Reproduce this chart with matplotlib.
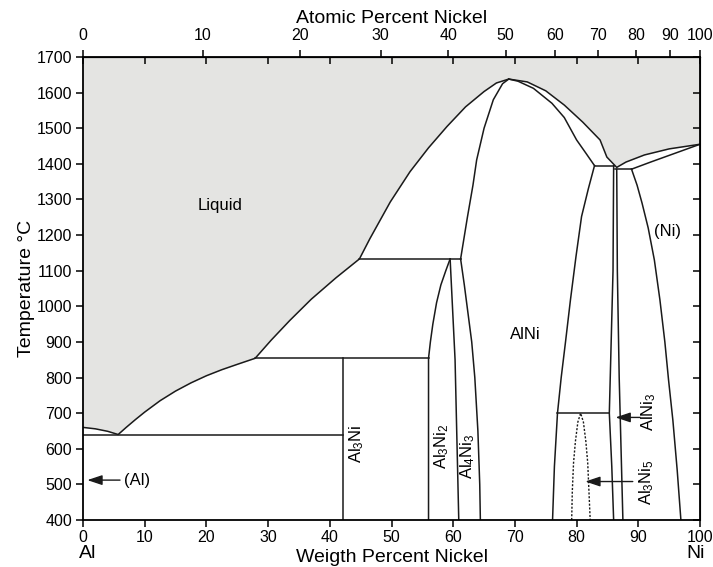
import numpy as np
import matplotlib
matplotlib.use("Agg")
import matplotlib.pyplot as plt

plt.rcParams['font.family'] = ['Liberation Sans', 'DejaVu Sans']
plt.rcParams['mathtext.default'] = 'regular'

# ---- phase boundaries, (wt% Ni, temperature C) ----
liq_x = [0, 2, 4, 5.7, 7, 8.5, 10, 12.5, 15, 17.5, 20, 22.5, 25, 27.9,
         30.5, 33.5, 37, 41, 44.8, 46.5, 49.8, 53, 56, 59, 62, 65, 67, 69,
         72, 75, 78, 81, 83.8, 84.9, 86.5, 88, 91, 95, 100]
liq_t = [660, 656, 649, 640, 660, 682, 703, 735, 762, 785, 805, 822, 837, 854,
         905, 960, 1020, 1080, 1133, 1190, 1293, 1378, 1445, 1505, 1560, 1603, 1627, 1638,
         1630, 1605, 1565, 1517, 1467, 1419, 1390, 1405, 1425, 1442, 1455]

# (Ni) solidus from eutectic to pure Ni
ni_sol_x = [88.9, 92, 96, 100]
ni_sol_t = [1385, 1405, 1430, 1455]

# AlNi solidus, left and right of the congruent maximum
alni_left_x = [61.2, 62.3, 63.2, 63.8, 65, 66.5, 68, 69]
alni_left_t = [1133, 1250, 1340, 1411, 1500, 1580, 1625, 1638]
alni_right_x = [69, 70.5, 73, 76, 78, 80, 81.5, 82.9]
alni_right_t = [1638, 1632, 1612, 1570, 1530, 1467, 1430, 1395]

# AlNi solvus lines below the solidus
alni_lo_x = [61.2, 61.8, 62.4, 63.0, 63.5, 64.0, 64.3, 64.4]
alni_lo_t = [1133, 1060, 980, 900, 800, 650, 500, 400]
alni_hi_x = [82.9, 81.9, 80.8, 79.9, 79.0, 78.2, 77.5, 76.9, 76.4, 76.1]
alni_hi_t = [1395, 1330, 1252, 1140, 1018, 900, 800, 700, 550, 400]

# Al3Ni2 dome
al3ni2_l_x = [59.5, 58.8, 58.0, 57.3, 56.7, 56.3, 56.0, 56.0]
al3ni2_l_t = [1133, 1100, 1060, 1010, 950, 900, 854, 400]
al3ni2_r_x = [59.5, 60.3, 60.9]
al3ni2_r_t = [1133, 850, 400]

# AlNi3 field
alni3_l_x = [86.0, 85.9, 85.6, 85.3, 85.7, 86.0]
alni3_l_t = [1395, 1100, 900, 700, 550, 400]
alni3_r_x = [86.5, 86.6, 86.9, 87.5]
alni3_r_t = [1385, 1100, 800, 400]

# (Ni) solvus
ni_solv_x = [88.9, 89.8, 90.6, 91.6, 92.6, 93.5, 94.3, 94.9, 95.6, 96.3, 96.9]
ni_solv_t = [1385, 1340, 1290, 1220, 1130, 1018, 900, 793, 680, 540, 400]

# Al3Ni5 dome (dashed)
al3ni5_x = [79.2, 79.3, 79.5, 79.8, 80.2, 80.65, 81.1, 81.5, 81.8, 82.0, 82.2]
al3ni5_t = [400, 480, 560, 620, 675, 700, 675, 620, 560, 480, 400]

# Al3Ni line compound
al3ni_x = [42.2, 42.2]
al3ni_t = [400, 854]

# invariant horizontals: (x_start, x_end, T)
invariants = [(0, 42.2, 640), (27.9, 56.0, 854), (44.8, 61.2, 1133),
              (76.9, 85.3, 700), (82.9, 86.0, 1395), (86.2, 88.9, 1385)]

yticks = list(range(400, 1701, 100))
xticks = list(range(0, 101, 10))
at_ticks = list(range(0, 101, 10))

M_NI, M_AL = 58.69, 26.98


def at_to_wt(a):
    a = np.asarray(a, dtype=float)
    return 100 * a * M_NI / (a * M_NI + (100 - a) * M_AL)


def wt_to_at(w):
    w = np.asarray(w, dtype=float)
    return 100 * (w / M_NI) / (w / M_NI + (100 - w) / M_AL)


fig = plt.figure(figsize=(7.13, 5.67), dpi=100)
ax = fig.add_axes([0.1164, 0.0829, 0.8654, 0.8166])
lc = '#1a1a1a'
lw = 1.1

ax.fill_between(liq_x, liq_t, 1700, color='#e4e4e2', lw=0, zorder=0)
ax.plot(liq_x, liq_t, color=lc, lw=lw)
ax.plot(ni_sol_x, ni_sol_t, color=lc, lw=lw)
for xs, ts in [(alni_left_x, alni_left_t), (alni_right_x, alni_right_t),
               (alni_lo_x, alni_lo_t), (alni_hi_x, alni_hi_t),
               (al3ni2_l_x, al3ni2_l_t), (al3ni2_r_x, al3ni2_r_t),
               (alni3_l_x, alni3_l_t), (alni3_r_x, alni3_r_t),
               (ni_solv_x, ni_solv_t), (al3ni_x, al3ni_t)]:
    ax.plot(xs, ts, color=lc, lw=lw)
for x0, x1, t in invariants:
    ax.plot([x0, x1], [t, t], color=lc, lw=lw)
ax.plot(al3ni5_x, al3ni5_t, color=lc, lw=1.0, ls=(0, (1.5, 1.2)))

ax.set_xlim(0, 100)
ax.set_ylim(400, 1700)
ax.set_xticks(xticks)
ax.set_yticks(yticks)
ax.tick_params(direction='out', labelsize=11.5, length=5, width=1.1)
ax.tick_params(axis='x', pad=2)
ax.tick_params(axis='y', pad=3)
for s in ax.spines.values():
    s.set_linewidth(1.3)

# inward ticks on top and right
top_in = ax.secondary_xaxis('top')
top_in.set_xticks(xticks)
top_in.tick_params(direction='in', length=5, width=1.1, labeltop=False)
right_in = ax.secondary_yaxis('right')
right_in.set_yticks(yticks)
right_in.tick_params(direction='in', length=5, width=1.1, labelright=False)

# atomic percent scale
top_at = ax.secondary_xaxis('top', functions=(wt_to_at, at_to_wt))
top_at.set_xticks(at_ticks)
top_at.tick_params(direction='out', length=5, width=1.1, labelsize=11.5, pad=5)
top_at.set_xlabel('Atomic Percent Nickel', fontsize=14, labelpad=4)

ax.set_xlabel('Weigth Percent Nickel', fontsize=14, labelpad=3)
ax.set_ylabel('Temperature °C', fontsize=14, labelpad=1)
ax.text(0.7, 307, 'Al', fontsize=14, ha='center', va='center', clip_on=False)
ax.text(99.3, 307, 'Ni', fontsize=14, ha='center', va='center', clip_on=False)

fs = 12
ax.text(22.2, 1282, 'Liquid', fontsize=fs, ha='center', va='center')
ax.text(71.6, 920, 'AlNi', fontsize=fs, ha='center', va='center')
ax.text(94.8, 1209, '(Ni)', fontsize=fs, ha='center', va='center')
ax.text(6.6, 512, '(Al)', fontsize=fs, ha='left', va='center')
ax.text(44.3, 615, 'Al$_3$Ni', fontsize=fs, rotation=90, ha='center', va='center')
ax.text(58.1, 608, 'Al$_3$Ni$_2$', fontsize=fs, rotation=90, ha='center', va='center')
ax.text(62.4, 580, 'Al$_4$Ni$_3$', fontsize=fs, rotation=90, ha='center', va='center')
ax.text(91.7, 705, 'AlNi$_3$', fontsize=fs, rotation=90, ha='center', va='center')
ax.text(91.4, 505, 'Al$_3$Ni$_5$', fontsize=fs, rotation=90, ha='center', va='center')

arrow = dict(arrowstyle='-|>,head_length=0.9,head_width=0.3', color=lc, lw=1.0,
             shrinkA=0, shrinkB=0)
ax.annotate('', xy=(0.7, 512), xytext=(6.0, 512), arrowprops=arrow)
ax.annotate('', xy=(86.3, 688), xytext=(90.3, 688), arrowprops=arrow)
ax.annotate('', xy=(81.4, 508), xytext=(89.1, 508), arrowprops=arrow)

fig.savefig('out.png', dpi=100)
